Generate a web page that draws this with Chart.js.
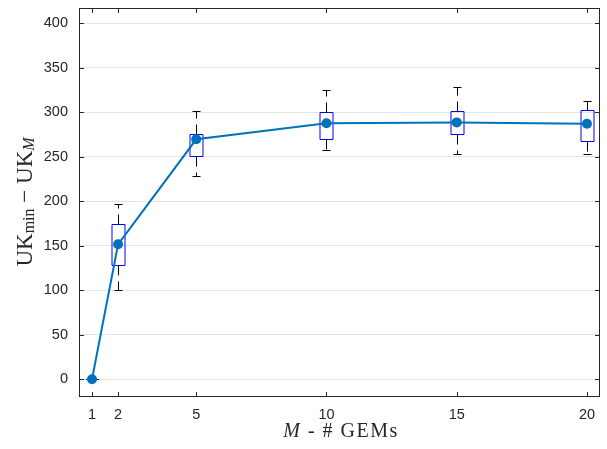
<!DOCTYPE html>
<html>
<head>
<meta charset="utf-8">
<script src="https://cdn.jsdelivr.net/npm/chart.js@4"></script>
<style>
  html, body { margin: 0; padding: 0; background: #fff; }
  #wrap { width: 607px; height: 449px; }
</style>
</head>
<body>
<div id="wrap"><canvas id="ukChart" width="607" height="449"></canvas></div>
<script>
// Number of GEMs and the mean UK drop per M
const mValues = [1, 2, 5, 10, 15, 20];
const meanUK = [0, 151.5, 269.5, 287.5, 288.5, 287];

// Box plot stats (q1, q3, whisker ends) per M
const q1 = [0, 128, 251, 270, 276, 268];
const q3 = [0, 174, 276, 300, 301.5, 302.5];
const whiskLo = [0, 100, 228, 257.5, 253, 253.5];
const whiskHi = [0, 196.5, 301, 325, 328, 312];

// Tick labels
const xTicks = [1, 2, 5, 10, 15, 20];
const yTicks = [0, 50, 100, 150, 200, 250, 300, 350, 400];

const axisColor = '#262626';
const lineBlue = '#0072BD';
const tickFont = { family: 'Liberation Sans, Arial, sans-serif', size: 14.5 };
const serif = 'Liberation Serif, "DejaVu Serif", serif';

// Boxes, whiskers, frame and axis titles drawn by hand (MATLAB look)
const boxPlugin = {
  id: 'boxPlugin',
  beforeDatasetsDraw(chart) {
    const ctx = chart.ctx;
    const xs = chart.scales.x, ys = chart.scales.y;
    const halfW = 6.5, capW = 4;
    ctx.save();
    mValues.forEach((m, i) => {
      const cx = Math.round(xs.getPixelForValue(m)) + 0.5;
      const yq1 = Math.round(ys.getPixelForValue(q1[i])) + 0.5;
      const yq3 = Math.round(ys.getPixelForValue(q3[i])) + 0.5;
      const ylo = Math.round(ys.getPixelForValue(whiskLo[i])) + 0.5;
      const yhi = Math.round(ys.getPixelForValue(whiskHi[i])) + 0.5;
      // whiskers (dashed)
      if (whiskHi[i] > q3[i]) {
        ctx.strokeStyle = '#000';
        ctx.lineWidth = 1;
        ctx.setLineDash([10, 6]);
        ctx.beginPath();
        ctx.moveTo(cx, yq3); ctx.lineTo(cx, yhi);
        ctx.moveTo(cx, yq1); ctx.lineTo(cx, ylo);
        ctx.stroke();
        ctx.setLineDash([]);
        ctx.beginPath();
        ctx.moveTo(cx - capW, yhi); ctx.lineTo(cx + capW, yhi);
        ctx.moveTo(cx - capW, ylo); ctx.lineTo(cx + capW, ylo);
        ctx.stroke();
      }
      // box
      ctx.strokeStyle = '#0000FF';
      ctx.lineWidth = 1;
      ctx.beginPath();
      if (q3[i] === q1[i]) {
        ctx.moveTo(cx - halfW, yq1); ctx.lineTo(cx + halfW, yq1);
      } else {
        ctx.rect(cx - halfW, yq3, halfW * 2, yq1 - yq3);
      }
      ctx.stroke();
    });
    ctx.restore();
  },
  afterDraw(chart) {
    const ctx = chart.ctx;
    const a = chart.chartArea;
    const xs = chart.scales.x, ys = chart.scales.y;
    ctx.save();
    ctx.strokeStyle = axisColor;
    ctx.lineWidth = 1;
    // frame
    ctx.strokeRect(Math.round(a.left) + 0.5, Math.round(a.top) + 0.5,
      Math.round(a.right - a.left) - 1, Math.round(a.bottom - a.top) - 1);
    // inward ticks
    const tl = 5;
    ctx.beginPath();
    xTicks.forEach(v => {
      const px = Math.round(xs.getPixelForValue(v)) + 0.5;
      ctx.moveTo(px, a.bottom); ctx.lineTo(px, a.bottom - tl);
      ctx.moveTo(px, a.top); ctx.lineTo(px, a.top + tl);
    });
    yTicks.forEach(v => {
      const py = Math.round(ys.getPixelForValue(v)) + 0.5;
      ctx.moveTo(a.left, py); ctx.lineTo(a.left + tl, py);
      ctx.moveTo(a.right, py); ctx.lineTo(a.right - tl, py);
    });
    ctx.stroke();

    // x axis title: M - # GEMs
    ctx.fillStyle = axisColor;
    ctx.textBaseline = 'alphabetic';
    ctx.letterSpacing = '1.5px';
    ctx.wordSpacing = '6px';
    const xt1 = 'M', xt2 = ' - # GEMs';
    ctx.font = 'italic 20px ' + serif;
    const w1 = ctx.measureText(xt1).width;
    ctx.font = '20px ' + serif;
    const w2 = ctx.measureText(xt2).width;
    const cx = 341;
    const x0 = cx - (w1 + w2) / 2;
    ctx.font = 'italic 20px ' + serif;
    ctx.fillText(xt1, x0, 437);
    ctx.font = '20px ' + serif;
    ctx.fillText(xt2, x0 + w1, 437);
    ctx.letterSpacing = '0px';
    ctx.wordSpacing = '0px';

    // y axis title: UK_min - UK_M
    const parts = [
      { t: 'UK', f: '23px ' + serif, dy: 0 },
      { t: 'min', f: '16px ' + serif, dy: 2 },
      { t: ' \u2212 UK', f: '23px ' + serif, dy: 0 },
      { t: 'M', f: 'italic 16px ' + serif, dy: 2 }
    ];
    let total = 0;
    parts.forEach(p => { ctx.font = p.f; p.w = ctx.measureText(p.t).width; total += p.w; });
    ctx.translate(32, 202);
    ctx.rotate(-Math.PI / 2);
    let px = -total / 2;
    parts.forEach(p => {
      ctx.font = p.f;
      ctx.fillText(p.t, px, p.dy);
      px += p.w;
    });
    ctx.restore();
  }
};

const ctxUK = document.getElementById('ukChart').getContext('2d');
const ukChart = new Chart(ctxUK, {
  type: 'line',
  data: {
    datasets: [{
      label: 'mean',
      data: mValues.map((m, i) => ({ x: m, y: meanUK[i] })),
      borderColor: lineBlue,
      backgroundColor: lineBlue,
      borderWidth: 2,
      pointRadius: 5,
      pointBorderWidth: 0,
      pointBackgroundColor: lineBlue,
      tension: 0,
      fill: false
    }]
  },
  options: {
    responsive: false,
    animation: false,
    layout: { padding: { left: 0, right: 7, top: 8, bottom: 0 } },
    plugins: {
      legend: { display: false },
      tooltip: { enabled: false }
    },
    scales: {
      x: {
        type: 'linear',
        min: 0.5,
        max: 20.5,
        afterBuildTicks: (s) => { s.ticks = xTicks.map(v => ({ value: v })); },
        afterFit: (s) => { s.height = 52; s.paddingLeft = 0; s.paddingRight = 0; },
        grid: { display: false, drawTicks: false },
        border: { display: false },
        ticks: { color: axisColor, font: tickFont, padding: 9, maxRotation: 0 }
      },
      y: {
        min: -20,
        max: 417,
        afterBuildTicks: (s) => { s.ticks = yTicks.map(v => ({ value: v })); },
        afterFit: (s) => { s.width = 79; s.paddingTop = 0; s.paddingBottom = 0; },
        grid: { color: '#e3e3e3', lineWidth: 1, drawTicks: false },
        border: { display: false },
        ticks: { color: axisColor, font: tickFont, padding: 11 }
      }
    }
  },
  plugins: [boxPlugin]
});
</script>
</body>
</html>
